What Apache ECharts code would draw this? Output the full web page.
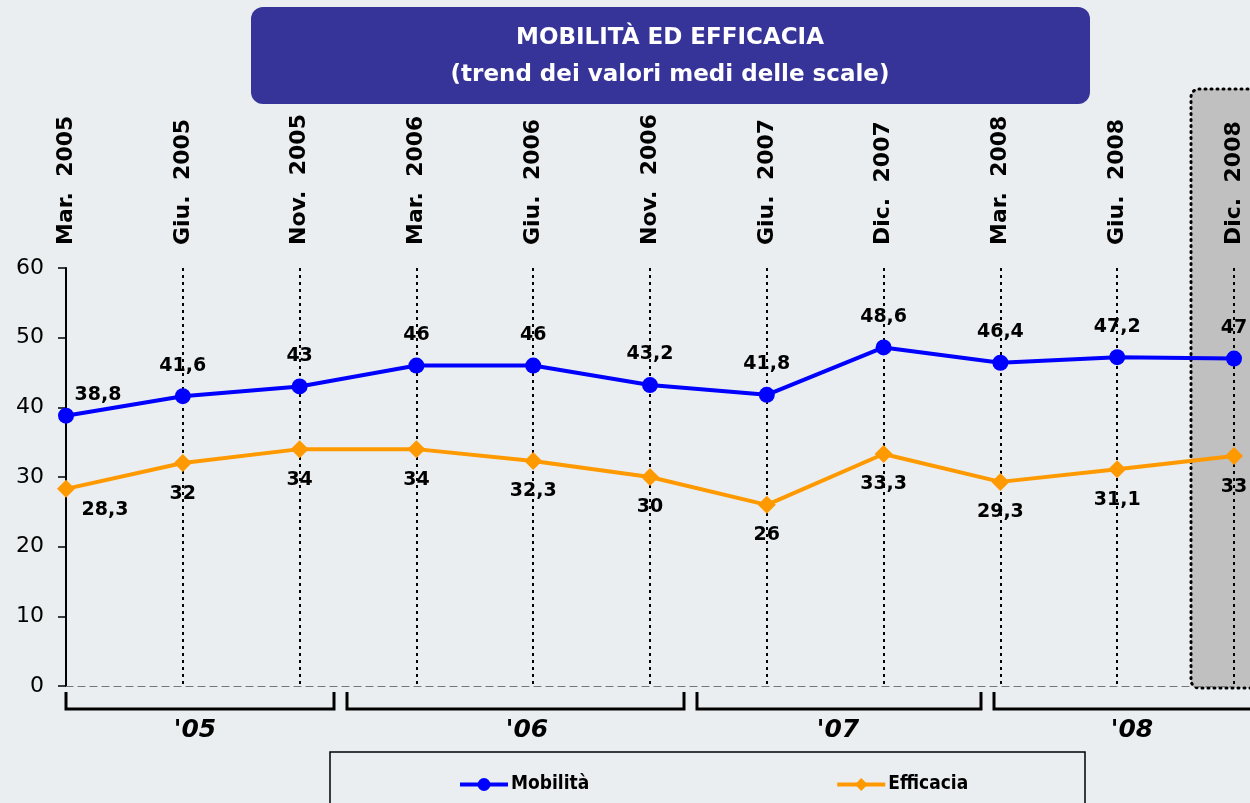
<!DOCTYPE html>
<html>
<head>
<meta charset="utf-8">
<script src="https://cdn.jsdelivr.net/npm/echarts@6.0.0/dist/echarts.min.js"></script>
<style>
  html, body { margin: 0; padding: 0; background: #eaeef0; }
  #main { width: 1250px; height: 803px; }
</style>
</head>
<body>
<div id="main"></div>
<script>
const categories = [
  "Mar.  2005", "Giu.  2005", "Nov.  2005", "Mar.  2006", "Giu.  2006", "Nov.  2006",
  "Giu.  2007", "Dic.  2007", "Mar.  2008", "Giu.  2008", "Dic.  2008"
];
const mobilita = [38.8, 41.6, 43, 46, 46, 43.2, 41.8, 48.6, 46.4, 47.2, 47];
const efficacia = [28.3, 32, 34, 34, 32.3, 30, 26, 33.3, 29.3, 31.1, 33];
const yearLabels = ["'05", "'06", "'07", "'08"];

const chart = echarts.init(document.getElementById("main"));
const font = "DejaVu Sans, Verdana, sans-serif";
const fmt = (p) => String(p.value).replace(".", ",");

// year brackets under the axis, [left, right] in pixels
const brackets = [[66, 334], [347, 684], [697, 981], [994, 1262]];
const yearX = [195, 527, 838, 1132];

const graphic = [
  {
    type: "rect", z: -10,
    shape: { x: 251, y: 7, width: 839, height: 97, r: 12 },
    style: { fill: "#363399" }
  },
  {
    type: "text", z: 10,
    style: {
      x: 670, y: 38, text: "MOBILITÀ ED EFFICACIA", fill: "#fff",
      font: "bold 23px " + font, align: "center", verticalAlign: "middle"
    }
  },
  {
    type: "text", z: 10,
    style: {
      x: 670, y: 75, text: "(trend dei valori medi delle scale)", fill: "#fff",
      font: "bold 23px " + font, align: "center", verticalAlign: "middle"
    }
  },
  {
    type: "rect", z: -10,
    shape: { x: 1191, y: 89, width: 80, height: 599, r: 8 },
    style: { fill: "#c0c0c0", stroke: "#000", lineWidth: 3, lineDash: [1, 5], lineCap: "round" }
  },
  {
    type: "rect", z: -10,
    shape: { x: 330, y: 752, width: 755, height: 70 },
    style: { fill: "none", stroke: "#000", lineWidth: 1.5 }
  }
];
brackets.forEach((b, i) => {
  graphic.push({
    type: "polyline", z: 10,
    shape: { points: [[b[0], 692], [b[0], 709], [b[1], 709], [b[1], 692]] },
    style: { stroke: "#000", lineWidth: 3, fill: "none" }
  });
  graphic.push({
    type: "text", z: 10,
    style: {
      x: yearX[i], y: 730, text: yearLabels[i], fill: "#000",
      font: "italic bold 25px " + font, align: "center", verticalAlign: "middle"
    }
  });
});

const option = {
  backgroundColor: "#eaeef0",
  animation: false,
  grid: { left: 66, right: 16, top: 268, bottom: 117, containLabel: false },
  graphic: graphic,
  legend: {
    left: 453, top: 770,
    itemWidth: 48, itemHeight: 16, itemGap: 246,
    lineStyle: { width: 4 },
    textStyle: { fontFamily: "DejaVu Sans Condensed, " + font, fontWeight: "bold", fontSize: 19, color: "#000", padding: [0, 0, 0, -2] },
    data: ["Mobilità", "Efficacia"]
  },
  xAxis: [
    {
      type: "category", data: categories, boundaryGap: false, position: "bottom",
      axisLine: { lineStyle: { color: "#777", type: [7, 5], width: 1.2 } },
      axisTick: { show: false },
      axisLabel: { show: false },
      splitLine: { show: true, lineStyle: { color: "#000", type: [3, 4], width: 2 } }
    },
    {
      type: "category", data: categories, boundaryGap: false, position: "top",
      axisLine: { show: false }, axisTick: { show: false },
      axisLabel: { rotate: -90, margin: 23, fontFamily: font, fontWeight: "bold", fontSize: 22, color: "#000" }
    }
  ],
  yAxis: {
    type: "value", min: 0, max: 60, interval: 10,
    axisLine: { show: true, lineStyle: { color: "#000", width: 2 } },
    axisTick: { show: true, length: 8, lineStyle: { color: "#000", width: 1.5 } },
    axisLabel: { margin: 22, fontFamily: font, fontSize: 22, color: "#000" },
    splitLine: { show: false }
  },
  series: [
    {
      name: "Mobilità", type: "line", data: mobilita,
      color: "#0000ff",
      symbol: "circle", symbolSize: 16,
      lineStyle: { width: 4, color: "#0000ff" },
      itemStyle: { color: "#0000ff" },
      label: {
        show: true, position: "top", distance: 13, formatter: fmt,
        fontFamily: font, fontWeight: "bold", fontSize: 19, color: "#000"
      },
      labelLayout: (p) => p.dataIndex === 0 ? { dx: 32, dy: 10 } : {},
      z: 3
    },
    {
      name: "Efficacia", type: "line", data: efficacia,
      color: "#ff9900",
      symbol: "diamond", symbolSize: 18,
      lineStyle: { width: 4, color: "#ff9900" },
      itemStyle: { color: "#ff9900" },
      label: {
        show: true, position: "bottom", distance: 12, formatter: fmt,
        fontFamily: font, fontWeight: "bold", fontSize: 19, color: "#000"
      },
      labelLayout: (p) => p.dataIndex === 0 ? { dx: 39, dy: -9 } : {},
      z: 3
    }
  ]
};

chart.setOption(option);
</script>
</body>
</html>
